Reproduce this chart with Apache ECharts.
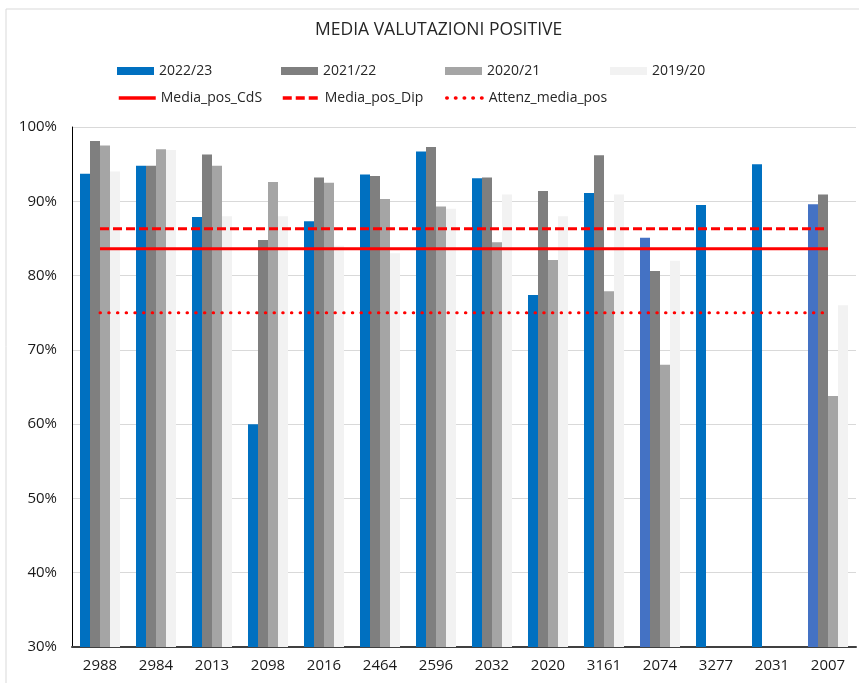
<!DOCTYPE html>
<html>
<head>
<meta charset="utf-8">
<script src="https://cdn.jsdelivr.net/npm/echarts@6/dist/echarts.min.js"></script>
<style>
html, body { margin: 0; padding: 0; background: #fff; }
#chart { width: 859px; height: 683px; }
</style>
</head>
<body>
<div id="chart"></div>
<script>
var myChart = echarts.init(document.getElementById('chart'));

var categories = ['2988', '2984', '2013', '2098', '2016', '2464', '2596', '2032', '2020', '3161', '2074', '3277', '2031', '2007'];

// valori in %
var val2223 = [93.7, 94.8, 87.9, 60.0, 87.3, 93.6, 96.7, 93.1, 77.4, 91.1, 85.1, 89.5, 95.0, 89.6];
var val2122 = [98.1, 94.8, 96.3, 84.8, 93.2, 93.4, 97.3, 93.2, 91.4, 96.2, 80.6, null, null, 90.9];
var val2021 = [97.5, 97.0, 94.8, 92.6, 92.5, 90.3, 89.3, 84.5, 82.1, 77.9, 68.0, null, null, 63.8];
var val1920 = [94.0, 96.9, 88.0, 88.0, 84.0, 83.0, 89.0, 90.9, 88.0, 90.9, 82.0, null, null, 76.0];

var mediaPosCdS = 83.6;
var mediaPosDip = 86.3;
var attenzMediaPos = 75.0;

// corsi con la barra 2022/23 in blu chiaro
var altBlue = ['2074', '2007'];

var yTicks = [30, 40, 50, 60, 70, 80, 90, 100];

var barNames = ['2022/23', '2021/22', '2020/21', '2019/20'];
var lineNames = ['Media_pos_CdS', 'Media_pos_Dip', 'Attenz_media_pos'];

var fontName = "'Open Sans', 'Liberation Sans', sans-serif";

var constLine = function (v) {
    return categories.map(function () { return v; });
};

var blueData = val2223.map(function (v, i) {
    if (altBlue.indexOf(categories[i]) >= 0) {
        return {value: v, itemStyle: {color: '#4472C4'}};
    }
    return v;
});

var barSeries = function (name, data, color) {
    return {
        name: name,
        type: 'bar',
        data: data,
        barWidth: 10,
        barGap: '0%',
        itemStyle: {color: color},
        z: 2
    };
};

var lineSeries = function (name, v, type, cap) {
    return {
        name: name,
        type: 'line',
        data: constLine(v),
        symbol: 'none',
        lineStyle: {color: '#FF0000', width: 3, type: type, cap: cap || 'butt'},
        itemStyle: {color: '#FF0000'},
        z: 5
    };
};

// una legenda per voce, per avere spaziatura fissa come in Excel
var legendXs = [117, 281, 445, 610];
var legends = [];
barNames.forEach(function (n, i) {
    legends.push({
        data: [n],
        left: legendXs[i],
        top: 64,
        padding: 0,
        itemWidth: 37,
        itemHeight: 8,
        icon: 'rect',
        textStyle: {fontFamily: fontName, fontSize: 14, color: '#262626'}
    });
});
lineNames.forEach(function (n, i) {
    legends.push({
        data: [n],
        left: legendXs[i],
        top: 91,
        padding: 0,
        itemWidth: 37,
        itemHeight: 14,
        itemStyle: {opacity: 0},
        lineStyle: {width: 3.5},
        textStyle: {fontFamily: fontName, fontSize: 14, color: '#262626'}
    });
});

option = {
    backgroundColor: '#fff',
    animation: false,
    textStyle: {fontFamily: fontName},
    title: {
        text: 'MEDIA VALUTAZIONI POSITIVE',
        left: 315,
        top: 21,
        padding: 0,
        textStyle: {fontFamily: fontName, fontSize: 17.5, fontWeight: 'normal', color: '#262626'}
    },
    legend: legends,
    grid: {
        left: 72,
        right: 3,
        top: 127,
        bottom: 36
    },
    xAxis: {
        type: 'category',
        data: categories,
        axisTick: {show: false},
        axisLine: {lineStyle: {color: '#404040', width: 2}},
        axisLabel: {fontFamily: fontName, fontSize: 15, color: '#1a1a1a', margin: 11}
    },
    yAxis: {
        type: 'value',
        min: yTicks[0],
        max: yTicks[yTicks.length - 1],
        interval: 10,
        axisLine: {show: true, lineStyle: {color: '#000', width: 1}},
        axisTick: {show: false},
        splitLine: {lineStyle: {color: '#D9D9D9', width: 1}},
        axisLabel: {fontFamily: fontName, fontSize: 15, color: '#1a1a1a', margin: 15, formatter: '{value}%'}
    },
    graphic: [{
        type: 'rect',
        shape: {x: 6, y: 9, width: 900, height: 700},
        style: {fill: null, stroke: '#D9D9D9', lineWidth: 1},
        silent: true,
        z: -10
    }],
    series: [
        barSeries(barNames[0], blueData, '#0070C0'),
        barSeries(barNames[1], val2122, '#7F7F7F'),
        barSeries(barNames[2], val2021, '#A5A5A5'),
        barSeries(barNames[3], val1920, '#F2F2F2'),
        lineSeries(lineNames[0], mediaPosCdS, 'solid'),
        lineSeries(lineNames[1], mediaPosDip, [9, 4]),
        lineSeries(lineNames[2], attenzMediaPos, [0.5, 8.2], 'round')
    ]
};
myChart.setOption(option);
</script>
</body>
</html>
